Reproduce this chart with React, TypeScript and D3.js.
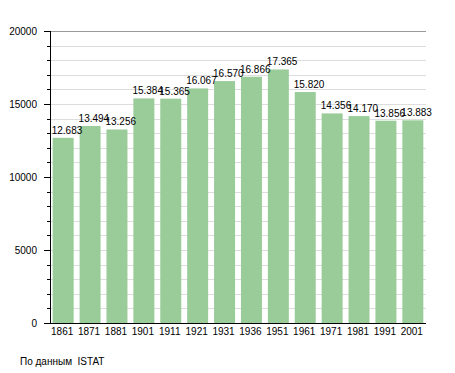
import * as d3 from "d3";
import { useEffect, useRef } from "react";

const years = ["1861", "1871", "1881", "1901", "1911", "1921", "1931", "1936", "1951", "1961", "1971", "1981", "1991", "2001"];
const population = [12683, 13494, 13256, 15384, 15365, 16067, 16570, 16866, 17365, 15820, 14356, 14170, 13856, 13883];
const yTicks = [0, 5000, 10000, 15000, 20000];
const sourceNote = "По данным  ISTAT";

export default function App() {
  const svgRef = useRef<SVGSVGElement>(null);

  useEffect(() => {
    if (!svgRef.current) return;
    const svg = d3.select(svgRef.current);
    svg.selectAll("*").remove();

    const left = 50;
    const right = 426;
    const top = 31;
    const bottom = 323;
    const font = "'Liberation Sans', Arial, sans-serif";

    const x = d3.scaleBand().domain(years).range([left, right]).paddingInner(0.22).paddingOuter(0.1);
    const y = d3.scaleLinear().domain([0, 20000]).range([bottom, top]);

    const fmt = d3.formatLocale({ decimal: ",", thousands: ".", grouping: [3], currency: ["", ""] }).format(",");

    // Gridlines every 1000
    const minor = d3.range(1000, 20000, 1000);
    svg
      .append("g")
      .selectAll("line")
      .data(minor)
      .enter()
      .append("line")
      .attr("x1", left)
      .attr("x2", right)
      .attr("y1", (d) => Math.round(y(d)) + 0.5)
      .attr("y2", (d) => Math.round(y(d)) + 0.5)
      .attr("stroke", "#dddddd")
      .attr("stroke-width", 1);

    svg
      .append("line")
      .attr("x1", left)
      .attr("x2", right)
      .attr("y1", Math.round(y(20000)) + 0.5)
      .attr("y2", Math.round(y(20000)) + 0.5)
      .attr("stroke", "#999999");

    // Bars
    svg
      .append("g")
      .selectAll("rect")
      .data(population)
      .enter()
      .append("rect")
      .attr("x", (_, i) => x(years[i]) || 0)
      .attr("y", (d) => y(d))
      .attr("width", x.bandwidth())
      .attr("height", (d) => y(0) - y(d))
      .attr("fill", "#99cc99");

    // Value labels
    svg
      .append("g")
      .selectAll("text")
      .data(population)
      .enter()
      .append("text")
      .attr("x", (_, i) => (x(years[i]) || 0) - 1)
      .attr("y", (d) => y(d) - 4)
      .style("font-family", font)
      .style("font-size", "10px")
      .attr("fill", "#000")
      .text((d) => fmt(d));

    // Y axis ticks
    svg
      .append("g")
      .selectAll("line")
      .data(d3.range(0, 20001, 1000))
      .enter()
      .append("line")
      .attr("x1", (d) => (d % 5000 === 0 ? left - 6 : left - 3))
      .attr("x2", left)
      .attr("y1", (d) => Math.round(y(d)) + 0.5)
      .attr("y2", (d) => Math.round(y(d)) + 0.5)
      .attr("stroke", "#000");

    svg
      .append("g")
      .selectAll("text")
      .data(yTicks)
      .enter()
      .append("text")
      .attr("x", 37)
      .attr("y", (d) => y(d) + 4)
      .attr("text-anchor", "end")
      .style("font-family", font)
      .style("font-size", "10px")
      .text((d) => String(d));

    // Axes lines
    svg
      .append("line")
      .attr("x1", left + 0.5)
      .attr("x2", left + 0.5)
      .attr("y1", top)
      .attr("y2", bottom + 1)
      .attr("stroke", "#000");
    svg
      .append("line")
      .attr("x1", left)
      .attr("x2", right)
      .attr("y1", bottom + 0.5)
      .attr("y2", bottom + 0.5)
      .attr("stroke", "#000");

    // X labels
    svg
      .append("g")
      .selectAll("text")
      .data(years)
      .enter()
      .append("text")
      .attr("x", (d) => (x(d) || 0) + x.bandwidth() / 2 - 1)
      .attr("y", bottom + 12)
      .attr("text-anchor", "middle")
      .style("font-family", font)
      .style("font-size", "10px")
      .text((d) => d);

    svg
      .append("text")
      .attr("x", 20)
      .attr("y", 365)
      .style("font-family", font)
      .style("font-size", "10px")
      .style("white-space", "pre")
      .text(sourceNote);
  }, []);

  return (
    <svg
      ref={svgRef}
      width={455}
      height={373}
      style={{ position: "absolute", left: 0, top: 0, background: "#fff" }}
    />
  );
}
